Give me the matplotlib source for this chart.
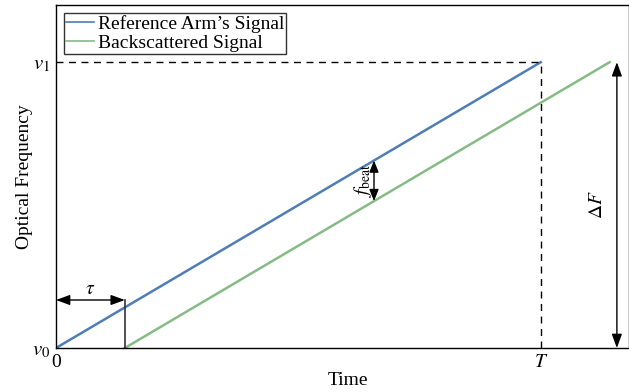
import matplotlib
matplotlib.use("Agg")
import matplotlib.pyplot as plt
import numpy as np

plt.rcParams['font.family'] = ['Liberation Serif', 'DejaVu Serif']
plt.rcParams['mathtext.fontset'] = 'stix'

# sweep parameters (normalised: T = 1, v1 - v0 = 1)
T = 1.0
tau = 0.142
f_start, f_end = 0.0, 1.0
ref_t = [0.0, T]
ref_f = [f_start, f_end]
back_t = [tau, T + tau]
back_f = [f_start, f_end]
beat_t = 0.656
tau_level = 0.168
dF_t = 1.157

FS = 14

fig = plt.figure(figsize=(6.29, 3.92), dpi=100)
ax = fig.add_axes([0.089, 0.1122, 0.911, 0.875])

ax.plot(ref_t, ref_f, color='#4f7db5', lw=1.8, label="Reference Arm\u2019s Signal")
ax.plot(back_t, back_f, color='#85bb85', lw=1.8, label='Backscattered Signal')

# dashed guides
ax.plot([0, T], [f_end, f_end], 'k--', lw=1.0, dashes=(5, 4))
ax.plot([T, T], [f_start, f_end], 'k--', lw=1.0, dashes=(5, 4))

arrow_big = '<|-|>,head_length=0.6,head_width=0.22'
arrow_small = '<|-|>,head_length=0.5,head_width=0.2'

# tau marker
ax.plot([tau, tau], [0, tau_level], color='#333333', lw=1.2)
ax.annotate('', xy=(0, tau_level), xytext=(tau, tau_level),
            arrowprops=dict(arrowstyle=arrow_big, color='k', lw=1.0, mutation_scale=14,
                            shrinkA=0, shrinkB=0))
ax.text(tau / 2, tau_level + 0.008, r'$\tau$', ha='center', va='bottom', fontsize=FS)

# beat frequency
y_top = beat_t
y_bot = beat_t - tau
ax.annotate('', xy=(beat_t, y_top), xytext=(beat_t, y_bot),
            arrowprops=dict(arrowstyle=arrow_small, color='k', lw=1.0, mutation_scale=14,
                            shrinkA=0, shrinkB=0))
ax.text(beat_t - 0.022, (y_top + y_bot) / 2, r'$f_{\mathrm{beat}}$', rotation=90,
        ha='center', va='center', fontsize=FS)

# delta F
ax.annotate('', xy=(dF_t, f_end), xytext=(dF_t, f_start),
            arrowprops=dict(arrowstyle=arrow_big, color='k', lw=1.0, mutation_scale=14,
                            shrinkA=0, shrinkB=0))
ax.text(dF_t - 0.04, 0.5, r'$\Delta F$', rotation=90, ha='center', va='center', fontsize=FS)

ax.set_xlim(0, 1.182)
ax.set_ylim(0, 1.2)
ax.set_xticks([0, T])
ax.set_xticklabels(['0', r'$T$'], fontsize=FS)
ax.set_yticks([f_start, f_end])
ax.set_yticklabels([r'$v_0$', r'$v_1$'], fontsize=15)
ax.tick_params(length=0, pad=4)
ax.set_xlabel('Time', fontsize=FS, labelpad=1)
ax.set_ylabel('Optical Frequency', fontsize=FS)
ax.yaxis.set_label_coords(-0.04, 0.5)
ax.xaxis.set_label_coords(0.51, -0.07)

for s in ax.spines.values():
    s.set_linewidth(1.0)

leg = ax.legend(loc='upper left', fontsize=FS, fancybox=False, edgecolor='k',
                handlelength=1.45, handletextpad=0.2, borderpad=0.1, labelspacing=0.1,
                borderaxespad=0.4)
leg.get_frame().set_linewidth(1.0)
for h in leg.get_lines():
    h.set_linewidth(1.2)

fig.savefig('out.png', dpi=100)
